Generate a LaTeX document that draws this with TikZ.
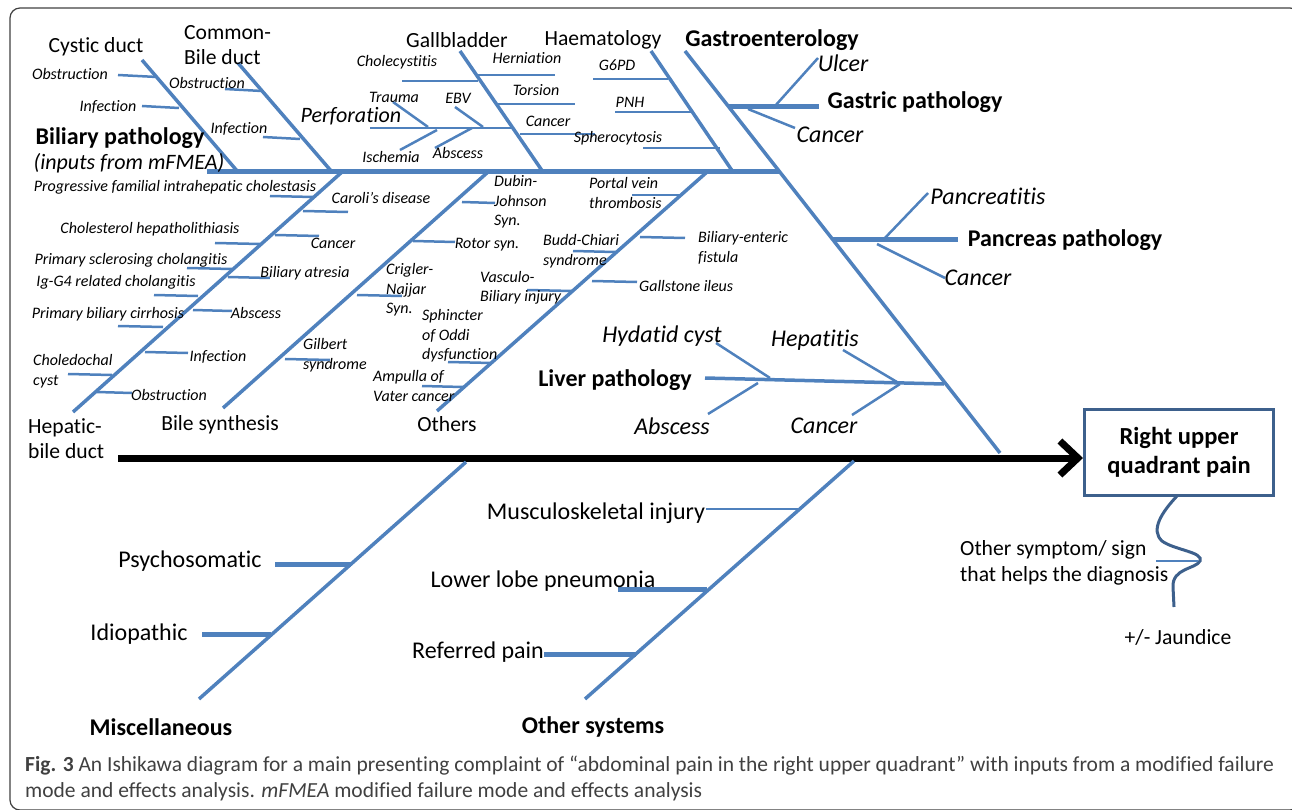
\documentclass[tikz,border=0pt]{standalone}
\usepackage{fontspec}
\setmainfont{Carlito}[Ligatures={TeX,NoCommon}]
\usepackage{tikz}
\usetikzlibrary{arrows.meta}

\definecolor{boneblue}{RGB}{79,129,189}
\definecolor{boxblue}{RGB}{61,96,140}
\definecolor{captgray}{RGB}{64,64,64}

\tikzset{
  bone/.style={boneblue, line width=3.5pt},
  bar/.style={boneblue, line width=5pt},
  twig/.style={boneblue, line width=2.5pt},
  cause/.style={inner sep=0pt, align=left, font=\fontsize{21.6}{25}\selectfont},
  causebig/.style={inner sep=0pt, font=\fontsize{24}{28}\selectfont},
  causebf/.style={inner sep=0pt, align=center, font=\fontsize{24}{29}\selectfont\bfseries},
  causeit/.style={inner sep=0pt, font=\fontsize{24}{28}\selectfont\itshape},
  itembig/.style={inner sep=0pt, font=\fontsize{22}{25}\selectfont\itshape},
  item/.style={inner sep=0pt, align=left, font=\fontsize{16}{19.5}\selectfont\itshape},
}

\begin{document}
\begin{tikzpicture}[x=1pt,y=-1pt]
  \useasboundingbox (0,0) rectangle (1292,810);
  \clip (0,0) rectangle (1292,810);
  \draw[black!75, line width=1.2pt, rounded corners=10pt] (10,8) rectangle (1300,810);

  % spine and head
  \coordinate (spine_start) at (118,458);
  \coordinate (spine_end) at (1083,458);
  \node[draw=boxblue, line width=3pt, minimum width=189, minimum height=86, inner sep=0pt,
        align=center, font=\fontsize{24.5}{29}\selectfont\bfseries] (rq) at (1179,452.5)
        {Right upper\\quadrant pain};
  \draw[line width=7pt, -{Straight Barb[length=18pt,width=34pt]}] (spine_start) -- (spine_end);

  % big bones, upper half
  \coordinate (bar_left) at (207,172);   \coordinate (bar_right) at (780,172);
  \coordinate (gastro_top) at (685,51);  \coordinate (gastro_end) at (1000,453);
  \coordinate (cystic_top) at (142,60);  \coordinate (cystic_end) at (238,172);
  \coordinate (common_top) at (238,63);  \coordinate (common_end) at (332,172);
  \coordinate (gall_top) at (460,51);    \coordinate (gall_end) at (543,172);
  \coordinate (haem_top) at (651,51);    \coordinate (haem_end) at (733,172);
  \coordinate (hepatic_top) at (342,172); \coordinate (hepatic_end) at (73,412);
  \coordinate (bile_top) at (488,172);   \coordinate (bile_end) at (223,408);
  \coordinate (others_top) at (707,172); \coordinate (others_end) at (437,411);
  \draw[bar] (bar_left) -- (bar_right);
  \draw[bone] (gastro_top) -- (gastro_end);
  \draw[bone] (cystic_top) -- (cystic_end);
  \draw[bone] (common_top) -- (common_end);
  \draw[bone] (gall_top) -- (gall_end);
  \draw[bone] (haem_top) -- (haem_end);
  \draw[bone] (hepatic_top) -- (hepatic_end);
  \draw[bone] (bile_top) -- (bile_end);
  \draw[bone] (others_top) -- (others_end);

  % big bones, lower half
  \coordinate (misc_top) at (466,462);   \coordinate (misc_end) at (199,699);
  \coordinate (other_top) at (854,461);  \coordinate (other_end) at (585,699);
  \draw[bone] (misc_top) -- (misc_end);
  \draw[bone] (other_top) -- (other_end);

  % gastric, pancreas, liver
  \coordinate (gastric_a) at (729,107);  \coordinate (gastric_b) at (819,107);
  \coordinate (ulcer_a) at (775,106);    \coordinate (ulcer_b) at (818,58);
  \coordinate (gcancer_a) at (748,109);  \coordinate (gcancer_b) at (795,128);
  \draw[bar] (gastric_a) -- (gastric_b);
  \draw[twig] (ulcer_a) -- (ulcer_b);
  \draw[twig] (gcancer_a) -- (gcancer_b);
  \coordinate (pancreas_a) at (833,240); \coordinate (pancreas_b) at (958,240);
  \coordinate (pancit_a) at (883,240);   \coordinate (pancit_b) at (928,193);
  \coordinate (pcancer_a) at (877,244);  \coordinate (pcancer_b) at (945,278);
  \draw[bar] (pancreas_a) -- (pancreas_b);
  \draw[twig] (pancit_a) -- (pancit_b);
  \draw[twig] (pcancer_a) -- (pcancer_b);
  \coordinate (liver_a) at (705,378);    \coordinate (liver_b) at (944,384);
  \coordinate (hydatid_a) at (716,343);  \coordinate (hydatid_b) at (770,378);
  \coordinate (labs_a) at (708,414);     \coordinate (labs_b) at (758,383);
  \coordinate (hepat_a) at (843,350);    \coordinate (hepat_b) at (897,382);
  \coordinate (lcancer_a) at (852,415);  \coordinate (lcancer_b) at (900,384);
  \draw[bone] (liver_a) -- (liver_b);
  \draw[twig] (hydatid_a) -- (hydatid_b);
  \draw[twig] (labs_a) -- (labs_b);
  \draw[twig] (hepat_a) -- (hepat_b);
  \draw[twig] (lcancer_a) -- (lcancer_b);

  % twigs on cystic and common bile duct
  \coordinate (cy_obs_a) at (118,75);   \coordinate (cy_obs_b) at (157,77);
  \coordinate (cy_inf_a) at (142,106);  \coordinate (cy_inf_b) at (179,108);
  \coordinate (cb_obs_a) at (225,89);   \coordinate (cb_obs_b) at (262,91);
  \coordinate (cb_inf_a) at (263,137);  \coordinate (cb_inf_b) at (300,139);
  \draw[twig] (cy_obs_a) -- (cy_obs_b);
  \draw[twig] (cy_inf_a) -- (cy_inf_b);
  \draw[twig] (cb_obs_a) -- (cb_obs_b);
  \draw[twig] (cb_inf_a) -- (cb_inf_b);

  % twigs on gallbladder
  \coordinate (chol_a) at (402,81);     \coordinate (chol_b) at (478,81);
  \coordinate (hern_a) at (478,75);     \coordinate (hern_b) at (555,75);
  \coordinate (tors_a) at (498,104);    \coordinate (tors_b) at (575,104);
  \coordinate (gbcan_a) at (520,134);   \coordinate (gbcan_b) at (595,134);
  \coordinate (perf_a) at (370,128);    \coordinate (perf_b) at (514,128);
  \coordinate (trauma_a) at (393,102);  \coordinate (trauma_b) at (428,127);
  \coordinate (isch_a) at (400,150);    \coordinate (isch_b) at (437,130);
  \coordinate (ebv_a) at (455,107);     \coordinate (ebv_b) at (483,127);
  \coordinate (gbabs_a) at (435,148);   \coordinate (gbabs_b) at (472,128);
  \draw[twig] (chol_a) -- (chol_b);
  \draw[twig] (hern_a) -- (hern_b);
  \draw[twig] (tors_a) -- (tors_b);
  \draw[twig] (gbcan_a) -- (gbcan_b);
  \draw[twig] (perf_a) -- (perf_b);
  \draw[twig] (trauma_a) -- (trauma_b);
  \draw[twig] (isch_a) -- (isch_b);
  \draw[twig] (ebv_a) -- (ebv_b);
  \draw[twig] (gbabs_a) -- (gbabs_b);

  % twigs on haematology
  \coordinate (g6pd_a) at (593,79);     \coordinate (g6pd_b) at (668,79);
  \coordinate (pnh_a) at (615,112);     \coordinate (pnh_b) at (692,112);
  \coordinate (spher_a) at (643,148);   \coordinate (spher_b) at (720,148);
  \draw[twig] (g6pd_a) -- (g6pd_b);
  \draw[twig] (pnh_a) -- (pnh_b);
  \draw[twig] (spher_a) -- (spher_b);

  % twigs on hepatic-bile duct
  \coordinate (pfic_a) at (270,196);    \coordinate (pfic_b) at (313,197);
  \coordinate (caroli_a) at (303,211);  \coordinate (caroli_b) at (348,212);
  \coordinate (chl_a) at (215,243);     \coordinate (chl_b) at (260,244);
  \coordinate (hpcan_a) at (275,235);   \coordinate (hpcan_b) at (319,236);
  \coordinate (psc_a) at (187,268);     \coordinate (psc_b) at (232,269);
  \coordinate (atres_a) at (228,277);   \coordinate (atres_b) at (270,278);
  \coordinate (igg_a) at (154,295);     \coordinate (igg_b) at (198,296);
  \coordinate (hpabs_a) at (193,310);   \coordinate (hpabs_b) at (232,311);
  \coordinate (pbc_a) at (118,326);     \coordinate (pbc_b) at (163,327);
  \coordinate (cyst_a) at (68,374);     \coordinate (cyst_b) at (112,375);
  \coordinate (hpinf_a) at (145,352);   \coordinate (hpinf_b) at (188,353);
  \coordinate (hpobs_a) at (97,392);    \coordinate (hpobs_b) at (132,393);
  \draw[twig] (pfic_a) -- (pfic_b);
  \draw[twig] (caroli_a) -- (caroli_b);
  \draw[twig] (chl_a) -- (chl_b);
  \draw[twig] (hpcan_a) -- (hpcan_b);
  \draw[twig] (psc_a) -- (psc_b);
  \draw[twig] (atres_a) -- (atres_b);
  \draw[twig] (igg_a) -- (igg_b);
  \draw[twig] (hpabs_a) -- (hpabs_b);
  \draw[twig] (pbc_a) -- (pbc_b);
  \draw[twig] (cyst_a) -- (cyst_b);
  \draw[twig] (hpinf_a) -- (hpinf_b);
  \draw[twig] (hpobs_a) -- (hpobs_b);

  % twigs on bile synthesis
  \coordinate (dubin_a) at (462,202);   \coordinate (dubin_b) at (495,203);
  \coordinate (rotor_a) at (413,241);   \coordinate (rotor_b) at (455,242);
  \coordinate (crig_a) at (357,295);    \coordinate (crig_b) at (402,296);
  \coordinate (gilb_a) at (285,359);    \coordinate (gilb_b) at (330,360);
  \draw[twig] (dubin_a) -- (dubin_b);
  \draw[twig] (rotor_a) -- (rotor_b);
  \draw[twig] (crig_a) -- (crig_b);
  \draw[twig] (gilb_a) -- (gilb_b);

  % twigs on others
  \coordinate (portal_a) at (632,195);  \coordinate (portal_b) at (680,195);
  \coordinate (fist_a) at (640,237);    \coordinate (fist_b) at (685,238);
  \coordinate (budd_a) at (573,251);    \coordinate (budd_b) at (615,252);
  \coordinate (ileus_a) at (592,281);   \coordinate (ileus_b) at (637,282);
  \coordinate (vasc_a) at (527,290);    \coordinate (vasc_b) at (572,291);
  \coordinate (oddi_a) at (448,362);    \coordinate (oddi_b) at (492,363);
  \coordinate (vater_a) at (422,386);   \coordinate (vater_b) at (463,387);
  \draw[twig] (portal_a) -- (portal_b);
  \draw[twig] (fist_a) -- (fist_b);
  \draw[twig] (budd_a) -- (budd_b);
  \draw[twig] (ileus_a) -- (ileus_b);
  \draw[twig] (vasc_a) -- (vasc_b);
  \draw[twig] (oddi_a) -- (oddi_b);
  \draw[twig] (vater_a) -- (vater_b);

  % twigs, lower half
  \coordinate (psy_a) at (275,564);     \coordinate (psy_b) at (351,564);
  \coordinate (idio_a) at (202,634);    \coordinate (idio_b) at (271,634);
  \coordinate (musc_a) at (706,509);    \coordinate (musc_b) at (799,509);
  \coordinate (pneu_a) at (618,589);    \coordinate (pneu_b) at (707,589);
  \coordinate (refer_a) at (544,654);   \coordinate (refer_b) at (636,654);
  \draw[bar] (psy_a) -- (psy_b);
  \draw[bar] (idio_a) -- (idio_b);
  \draw[twig] (musc_a) -- (musc_b);
  \draw[bar] (pneu_a) -- (pneu_b);
  \draw[bar] (refer_a) -- (refer_b);

  % squiggle under the box
  \coordinate (sq_start) at (1177,496);
  \coordinate (sq_end) at (1174,607);
  \coordinate (sign_a) at (1156,561);   \coordinate (sign_b) at (1198,561);
  \draw[boxblue, line width=3pt] (sq_start) .. controls (1162,512) and (1150,530) .. (1162,541)
        .. controls (1174,550) and (1204,552) .. (1200,561)
        .. controls (1196,569) and (1172,568) .. (1173,587) -- (sq_end);
  \draw[twig] (sign_a) -- (sign_b);

  % labels
  \node[cause] (cystic) at (96,47) {Cystic duct};
  \node[cause, anchor=west] (common) at (184,45) {Common-\\Bile duct};
  \node[cause] (gall) at (457,40) {Gallbladder};
  \node[cause] (haem) at (603,40) {Haematology};
  \node[causebf] (gastro) at (772,40) {Gastroenterology};
  \node[causebf] (biliary) at (120,138) {Biliary pathology};
  \node[itembig] (mfmea) at (129,163) {(inputs from mFMEA)};
  \node[cause, anchor=west] (hepatic) at (28,439) {Hepatic-\\bile duct};
  \node[cause] (bile) at (220,425) {Bile synthesis};
  \node[cause] (others) at (447,424) {Others};

  \node[item] (l_cy_obs) at (70,74) {Obstruction};
  \node[item] (l_cy_inf) at (108,107) {Infection};
  \node[item] (l_cb_obs) at (207,83) {Obstruction};
  \node[item] (l_cb_inf) at (239,129) {Infection};
  \node[item] (l_chol) at (397,62) {Cholecystitis};
  \node[item] (l_hern) at (527,58) {Herniation};
  \node[item] (l_tors) at (536,90) {Torsion};
  \node[item] (l_gbcan) at (548,121) {Cancer};
  \node[itembig] (l_perf) at (351,116) {Perforation};
  \node[item] (l_trauma) at (394,97) {Trauma};
  \node[item] (l_ebv) at (458,98) {EBV};
  \node[item] (l_isch) at (391,157) {Ischemia};
  \node[item] (l_gbabs) at (458,153) {Abscess};
  \node[item] (l_g6pd) at (617,65) {G6PD};
  \node[item] (l_pnh) at (630,102) {PNH};
  \node[item] (l_spher) at (618,138) {Spherocytosis};

  \node[causeit] (l_ulcer) at (843,63) {Ulcer};
  \node[causebf] (gastric) at (915,102) {Gastric pathology};
  \node[causeit] (l_gcancer) at (830,135) {Cancer};
  \node[causeit] (l_pancit) at (988,196) {Pancreatitis};
  \node[causebf] (pancreas) at (1065,240) {Pancreas pathology};
  \node[causeit] (l_pcancer) at (978,278) {Cancer};
  \node[causebf] (liver) at (615,380) {Liver pathology};
  \node[causeit] (l_hydatid) at (662,336) {Hydatid cyst};
  \node[causeit] (l_hepat) at (815,340) {Hepatitis};
  \node[causeit] (l_labs) at (672,426) {Abscess};
  \node[causeit] (l_lcancer) at (824,426) {Cancer};

  \node[item] (l_pfic) at (175,187) {Progressive familial intrahepatic cholestasis};
  \node[item] (l_caroli) at (381,198) {Caroli’s disease};
  \node[item] (l_chl) at (150,229) {Cholesterol hepatholithiasis};
  \node[item] (l_hpcan) at (333,243) {Cancer};
  \node[item] (l_psc) at (131,260) {Primary sclerosing cholangitis};
  \node[item] (l_atres) at (305,273) {Biliary atresia};
  \node[item] (l_igg) at (116,282) {Ig-G4 related cholangitis};
  \node[item] (l_hpabs) at (256,313) {Abscess};
  \node[item] (l_pbc) at (108,314) {Primary biliary cirrhosis};
  \node[item, anchor=west] (l_cyst) at (33,371) {Choledochal\\cyst};
  \node[item] (l_hpinf) at (218,357) {Infection};
  \node[item] (l_hpobs) at (169,395) {Obstruction};

  \node[item, anchor=west] (l_dubin) at (494,202) {Dubin-\\Johnson\\Syn.};
  \node[item] (l_rotor) at (487,245) {Rotor syn.};
  \node[item, anchor=west] (l_crig) at (386,290) {Crigler-\\Najjar\\Syn.};
  \node[item, anchor=west] (l_gilb) at (303,355) {Gilbert\\syndrome};

  \node[item, anchor=west] (l_portal) at (589,193) {Portal vein\\thrombosis};
  \node[item, anchor=west] (l_fist) at (698,248) {Biliary-enteric\\fistula};
  \node[item, anchor=west] (l_budd) at (543,251) {Budd-Chiari\\syndrome};
  \node[item, anchor=west] (l_ileus) at (639,286) {Gallstone ileus};
  \node[item, anchor=west] (l_vasc) at (480,288) {Vasculo-\\Biliary injury};
  \node[item, anchor=west] (l_oddi) at (422,336) {Sphincter\\of Oddi\\dysfunction};
  \node[item, anchor=west] (l_vater) at (373,386) {Ampulla of\\Vater cancer};

  \node[causebig] (l_psy) at (190,561) {Psychosomatic};
  \node[causebig] (l_idio) at (139,634) {Idiopathic};
  \node[causebig] (l_musc) at (596,513) {Musculoskeletal injury};
  \node[causebig] (l_pneu) at (543,581) {Lower lobe pneumonia};
  \node[causebig] (l_refer) at (478,652) {Referred pain};
  \node[causebf] (misc) at (161,727) {Miscellaneous};
  \node[causebf] (othersys) at (593,727) {Other systems};

  \node[inner sep=0pt, anchor=west, align=left, font=\fontsize{21.6}{26}\selectfont] (l_sign) at (960,563)
       {Other symptom/ sign\\that helps the diagnosis};
  \node[inner sep=0pt, font=\fontsize{21.6}{25}\selectfont] (l_jaund) at (1178,637) {+/- Jaundice};

  % caption
  \node[inner sep=0pt, anchor=west, text=captgray, font=\fontsize{21.5}{26}\selectfont] (capt1) at (25,766)
       {\textbf{Fig. 3} An Ishikawa diagram for a main presenting complaint of “abdominal pain in the right upper quadrant” with inputs from a modified failure};
  \node[inner sep=0pt, anchor=west, text=captgray, font=\fontsize{21.5}{26}\selectfont] (capt2) at (25,792)
       {mode and effects analysis. \textit{mFMEA} modified failure mode and effects analysis};
\end{tikzpicture}
\end{document}
